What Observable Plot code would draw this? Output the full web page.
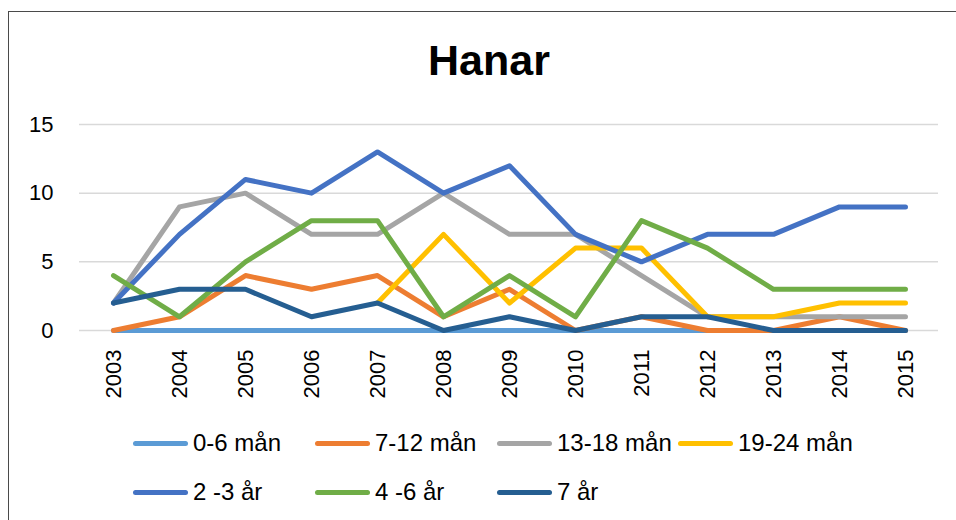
<!DOCTYPE html>
<html>
<head>
<meta charset="utf-8">
<script src="https://cdn.jsdelivr.net/npm/d3@7"></script>
<script src="https://cdn.jsdelivr.net/npm/@observablehq/plot@0.6"></script>
<style>
  html, body { margin: 0; padding: 0; background: #fff; }
  #wrap { position: relative; width: 956px; height: 520px; overflow: hidden; font-family: "Liberation Sans", Arial, sans-serif; }
  #frame { position: absolute; left: 8px; top: 11px; width: 1000px; height: 600px; border-left: 1.5px solid #4a4a4a; border-top: 1.5px solid #4a4a4a; }
  #title { position: absolute; left: 0; width: 978px; top: 36px; text-align: center; font-size: 43px; font-weight: bold; color: #000; }
  #chart { position: absolute; left: 0; top: 0; }
  .leg { position: absolute; display: flex; align-items: center; font-size: 24px; color: #000; white-space: nowrap; }
  .sw { width: 55px; height: 5px; border-radius: 3px; margin-right: 5px; }
</style>
</head>
<body>
<div id="wrap">
  <div id="frame"></div>
  <div id="title">Hanar</div>
  <div id="chart"></div>
</div>
<script>
const years = [2003, 2004, 2005, 2006, 2007, 2008, 2009, 2010, 2011, 2012, 2013, 2014, 2015];
const seriesNames = ["0-6 mån", "7-12 mån", "13-18 mån", "19-24 mån", "2 -3 år", "4 -6 år", "7 år"];
const seriesColors = ["#5B9BD5", "#ED7D31", "#A5A5A5", "#FFC000", "#4472C4", "#70AD47", "#255E91"];
const m0_6   = [0, 0, 0, 0, 0, 0, 0, 0, 0, 0, 0, 0, 0];
const m7_12  = [0, 1, 4, 3, 4, 1, 3, 0, 1, 0, 0, 1, 0];
const m13_18 = [2, 9, 10, 7, 7, 10, 7, 7, 4, 1, 1, 1, 1];
const m19_24 = [null, null, null, null, 2, 7, 2, 6, 6, 1, 1, 2, 2];
const a2_3   = [2, 7, 11, 10, 13, 10, 12, 7, 5, 7, 7, 9, 9];
const a4_6   = [4, 1, 5, 8, 8, 1, 4, 1, 8, 6, 3, 3, 3];
const a7     = [2, 3, 3, 1, 2, 0, 1, 0, 1, 1, 0, 0, 0];
const yTicks = [0, 5, 10, 15];

const seriesValues = [m0_6, m7_12, m13_18, m19_24, a2_3, a4_6, a7];

const rows = [];
seriesNames.forEach((name, i) => {
  years.forEach((yr, j) => rows.push({series: name, year: String(yr), value: seriesValues[i][j]}));
});

const lineMarks = seriesNames.map(name =>
  Plot.line(rows.filter(d => d.series === name), {
    x: "year", y: "value", stroke: "series",
    strokeWidth: 5, strokeLinecap: "round", strokeLinejoin: "round"
  })
);

const chart = Plot.plot({
  width: 956,
  height: 420,
  marginTop: 124,
  marginBottom: 90,
  marginLeft: 79,
  marginRight: 18,
  style: {fontFamily: "'Liberation Sans', Arial, sans-serif", fontSize: "22px", color: "#000", background: "transparent"},
  x: {type: "point", domain: years.map(String), padding: 0.5, label: null, tickSize: 0, tickPadding: 19, tickRotate: -90},
  y: {domain: [0, 15], ticks: yTicks, label: null, tickSize: 0, tickPadding: 26},
  color: {domain: seriesNames, range: seriesColors},
  marks: [
    Plot.ruleY(yTicks, {stroke: "#d9d9d9", strokeWidth: 1.5}),
    ...lineMarks
  ]
});
document.getElementById("chart").appendChild(chart);

// legend
const legPos = [
  {x: 133, y: 443}, {x: 315, y: 443}, {x: 497, y: 443}, {x: 678, y: 443},
  {x: 133, y: 492}, {x: 315, y: 492}, {x: 497, y: 492}
];
const wrap = document.getElementById("wrap");
seriesNames.forEach((name, i) => {
  const d = document.createElement("div");
  d.className = "leg";
  d.style.left = legPos[i].x + "px";
  d.style.top = (legPos[i].y - 15) + "px";
  d.style.height = "30px";
  const sw = document.createElement("span");
  sw.className = "sw";
  sw.style.background = seriesColors[i];
  const t = document.createElement("span");
  t.textContent = name;
  d.appendChild(sw); d.appendChild(t);
  wrap.appendChild(d);
});
</script>
</body>
</html>
